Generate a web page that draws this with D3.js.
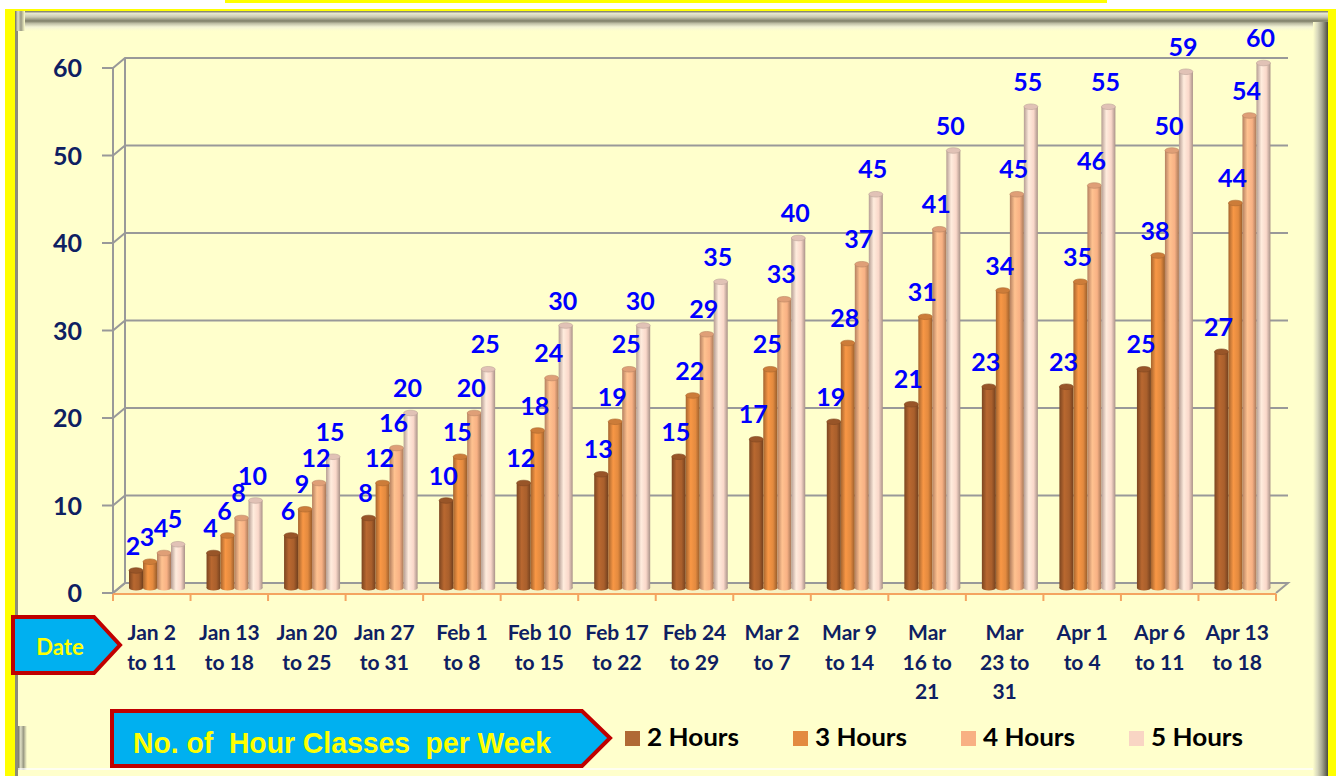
<!DOCTYPE html>
<html>
<head>
<meta charset="utf-8">
<script src="https://cdn.jsdelivr.net/npm/d3@7"></script>
<style>
  body { margin: 0; background: #fff; }
  svg { display: block; }
</style>
</head>
<body>
<div id="chart"></div>
<script>
// data
var categories = ["Jan 2\nto 11", "Jan 13\nto 18", "Jan 20\nto 25", "Jan 27\nto 31", "Feb 1\nto 8",
                  "Feb 10\nto 15", "Feb 17\nto 22", "Feb 24\nto 29", "Mar 2\nto 7", "Mar 9\nto 14",
                  "Mar\n16 to\n21", "Mar\n23 to\n31", "Apr 1\nto 4", "Apr 6\nto 11", "Apr 13\nto 18"];
var seriesNames = ["2 Hours", "3 Hours", "4 Hours", "5 Hours"];
var hours2 = [2, 4, 6, 8, 10, 12, 13, 15, 17, 19, 21, 23, 23, 25, 27];
var hours3 = [3, 6, 9, 12, 15, 18, 19, 22, 25, 28, 31, 34, 35, 38, 44];
var hours4 = [4, 8, 12, 16, 20, 24, 25, 29, 33, 37, 41, 45, 46, 50, 54];
var hours5 = [5, 10, 15, 20, 25, 30, 30, 35, 40, 45, 50, 55, 55, 59, 60];
var yTicks = [0, 10, 20, 30, 40, 50, 60];

var series = [hours2, hours3, hours4, hours5];
var colors = ["#A95F2C", "#E38A3F", "#F8B184", "#FAD8CA"];
var swatch = ["#B06A35", "#E38B40", "#F8B083", "#F9D5C4"];

var W = 1336, H = 776;
var font = "Lato, 'Open Sans', sans-serif";
var svg = d3.select("#chart").append("svg").attr("width", W).attr("height", H);
var defs = svg.append("defs");

// depth offset of the 3d box
var dx = 12, dy = -10;

// ---- frame ----
svg.append("rect").attr("x", 225).attr("y", 0).attr("width", 882).attr("height", 3).attr("fill", "#FFFF00");
svg.append("rect").attr("x", 5).attr("y", 9).attr("width", W - 5).attr("height", H - 9).attr("fill", "#FFFF00");

var gTop = defs.append("linearGradient").attr("id", "bevTop").attr("x1", 0).attr("y1", 0).attr("x2", 0).attr("y2", 1);
[[0, "#6f6f5e"], [0.12, "#e8e8d0"], [0.3, "#c9c9b0"], [0.5, "#7e7e68"], [0.62, "#bdbda4"], [0.8, "#f4f4d6"], [1, "#ffffcc"]]
  .forEach(function(s) { gTop.append("stop").attr("offset", s[0]).attr("stop-color", s[1]); });
var gSide = defs.append("linearGradient").attr("id", "bevSide").attr("x1", 0).attr("y1", 0).attr("x2", 1).attr("y2", 0);
[[0, "#ffffcc"], [0.3, "#d8d8bc"], [0.6, "#a5a590"], [0.85, "#6f6f5e"], [1, "#4a4a40"]]
  .forEach(function(s) { gSide.append("stop").attr("offset", s[0]).attr("stop-color", s[1]); });
var gLeft = defs.append("linearGradient").attr("id", "bevLeft").attr("x1", 0).attr("y1", 0).attr("x2", 1).attr("y2", 0);
[[0, "#6f6f5e"], [0.3, "#e0e0c6"], [0.6, "#9a9a84"], [1, "#ffffcc"]]
  .forEach(function(s) { gLeft.append("stop").attr("offset", s[0]).attr("stop-color", s[1]); });

svg.append("rect").attr("x", 15).attr("y", 11).attr("width", 1313).attr("height", H - 11).attr("fill", "#ffffcc");
svg.append("rect").attr("x", 15).attr("y", 11).attr("width", 1313).attr("height", 20).attr("fill", "url(#bevTop)");
svg.append("rect").attr("x", 15).attr("y", 11).attr("width", 10).attr("height", 20).attr("fill", "url(#bevLeft)");
svg.append("rect").attr("x", 15).attr("y", 31).attr("width", 3).attr("height", H - 31).attr("fill", "#8c8c78");
svg.append("rect").attr("x", 18).attr("y", 726).attr("width", 9).attr("height", 44).attr("fill", "url(#bevLeft)");
svg.append("rect").attr("x", 1313).attr("y", 22).attr("width", 15).attr("height", H - 22).attr("fill", "url(#bevSide)");
svg.append("rect").attr("x", 18).attr("y", 768).attr("width", 1295).attr("height", 2).attr("fill", "#ffffff").attr("opacity", 0.7);

// ---- scales ----
var y = d3.scaleLinear().domain([0, 60]).range([593, 68]);
var x = d3.scaleBand().domain(d3.range(categories.length)).range([113, 1276]);
var xs = d3.scaleBand().domain(d3.range(series.length)).range([10, 66]);

// floor
svg.append("path")
  .attr("d", "M113," + y(0) + "L" + (113 + dx) + "," + (y(0) + dy) + "L" + (1276 + dx) + "," + (y(0) + dy) + "L1276," + y(0))
  .attr("fill", "#f7f3c4").attr("stroke", "#9a9a9a").attr("stroke-width", 2);

// gridlines with side-wall diagonals
svg.append("g").selectAll("path").data(yTicks).enter().append("path")
  .attr("d", function(t) {
    return "M102," + y(t) + "L113," + y(t) + "L" + (113 + dx) + "," + (y(t) + dy) + "L" + (1276 + dx) + "," + (y(t) + dy);
  })
  .attr("fill", "none").attr("stroke", "#999999").attr("stroke-width", 2);

svg.append("line").attr("x1", 113).attr("x2", 113).attr("y1", y(60)).attr("y2", y(0))
  .attr("stroke", "#999999").attr("stroke-width", 2);
svg.append("line").attr("x1", 113 + dx).attr("x2", 113 + dx).attr("y1", y(60) + dy).attr("y2", y(0) + dy)
  .attr("stroke", "#999999").attr("stroke-width", 2);

// front category axis (orange)
svg.append("line").attr("x1", 113).attr("x2", 1276).attr("y1", y(0) + 1).attr("y2", y(0) + 1)
  .attr("stroke", "#F4A460").attr("stroke-width", 2);
svg.append("g").selectAll("line").data(d3.range(categories.length + 1)).enter().append("line")
  .attr("x1", function(i) { return 113 + i * x.bandwidth(); })
  .attr("x2", function(i) { return 113 + i * x.bandwidth(); })
  .attr("y1", y(0) + 1).attr("y2", y(0) + 8)
  .attr("stroke", "#F4A460").attr("stroke-width", 2);

// y tick labels
svg.append("g").selectAll("text").data(yTicks).enter().append("text")
  .attr("x", 82).attr("y", function(t) { return y(t) + 9; })
  .attr("text-anchor", "end")
  .style("font-family", font).style("font-weight", "bold").style("font-size", "25px")
  .attr("fill", "#0E2062")
  .text(function(t) { return t; });

// ---- cylinders ----
colors.forEach(function(c, i) {
  var g = defs.append("linearGradient").attr("id", "cyl" + i).attr("x1", 0).attr("y1", 0).attr("x2", 1).attr("y2", 0);
  g.append("stop").attr("offset", 0).attr("stop-color", d3.color(c).darker(0.9));
  g.append("stop").attr("offset", 0.35).attr("stop-color", d3.color(c).brighter(0.25));
  g.append("stop").attr("offset", 0.7).attr("stop-color", c);
  g.append("stop").attr("offset", 1).attr("stop-color", d3.color(c).darker(1.1));
});

var bw = xs.bandwidth();
var bars = svg.append("g");
series.forEach(function(vals, si) {
  var gs = bars.append("g");
  gs.selectAll("rect").data(vals).enter().append("rect")
    .attr("x", function(v, ci) { return x(ci) + xs(si) + dx / 2; })
    .attr("y", function(v) { return y(v) + dy / 2; })
    .attr("width", bw)
    .attr("height", function(v) { return y(0) - y(v); })
    .attr("fill", "url(#cyl" + si + ")");
  gs.selectAll("ellipse.bot").data(vals).enter().append("ellipse")
    .attr("cx", function(v, ci) { return x(ci) + xs(si) + dx / 2 + bw / 2; })
    .attr("cy", y(0) + dy / 2)
    .attr("rx", bw / 2).attr("ry", 2.5)
    .attr("fill", "url(#cyl" + si + ")");
  gs.selectAll("ellipse.top").data(vals).enter().append("ellipse")
    .attr("cx", function(v, ci) { return x(ci) + xs(si) + dx / 2 + bw / 2; })
    .attr("cy", function(v) { return y(v) + dy / 2; })
    .attr("rx", bw / 2).attr("ry", 2.8)
    .attr("fill", d3.color(colors[si]).darker(0.3))
    .attr("stroke", d3.color(colors[si]).darker(0.8)).attr("stroke-width", 0.6);
});

// value labels
var labels = svg.append("g");
series.forEach(function(vals, si) {
  labels.append("g").selectAll("text").data(vals).enter().append("text")
    .attr("x", function(v, ci) { return x(ci) + xs(si) + dx / 2 + bw / 2 - 3; })
    .attr("y", function(v) { return y(v) + dy / 2 - 16; })
    .attr("text-anchor", "middle")
    .style("font-family", font).style("font-weight", "bold").style("font-size", "25px")
    .attr("fill", "#0000FF")
    .text(function(v) { return v; });
});

// category labels
var cat = svg.append("g").selectAll("text").data(categories).enter().append("text")
  .attr("text-anchor", "middle")
  .style("font-family", font).style("font-weight", "bold").style("font-size", "21px")
  .attr("fill", "#0E2062");
cat.each(function(d, i) {
  var t = d3.select(this);
  d.split("\n").forEach(function(line, li) {
    t.append("tspan").attr("x", x(i) + x.bandwidth() / 2).attr("y", 640 + li * 29.5).text(line);
  });
});

// "Date" arrow
svg.append("path").attr("d", "M13,617L94,617L120,645L94,673L13,673Z")
  .attr("fill", "#00B0F0").attr("stroke", "#C00000").attr("stroke-width", 4).attr("stroke-linejoin", "miter");
svg.append("text").attr("x", 60).attr("y", 655).attr("text-anchor", "middle")
  .style("font-family", font).style("font-weight", "bold").style("font-size", "22px")
  .attr("fill", "#FFFF00").text("Date");

// legend title arrow
svg.append("path").attr("d", "M112,711L582,711L610,738L582,766L112,766Z")
  .attr("fill", "#00B0F0").attr("stroke", "#C00000").attr("stroke-width", 4);
svg.append("text").attr("x", 133).attr("y", 753)
  .attr("textLength", 418).attr("lengthAdjust", "spacingAndGlyphs")
  .style("font-family", "'Liberation Sans Narrow', 'Liberation Sans', Arial, sans-serif").style("font-weight", "bold").style("font-size", "30px")
  .attr("fill", "#FFFF00").attr("xml:space", "preserve")
  .text("No. of  Hour Classes  per Week");

// legend
var leg = svg.append("g").selectAll("g").data(seriesNames).enter().append("g")
  .attr("transform", function(d, i) { return "translate(" + (625 + i * 168) + ",731)"; });
leg.append("rect").attr("width", 15).attr("height", 15).attr("fill", function(d, i) { return swatch[i]; });
leg.append("text").attr("x", 22).attr("y", 15)
  .attr("textLength", 92).attr("lengthAdjust", "spacingAndGlyphs")
  .style("font-family", font).style("font-weight", "bold").style("font-size", "24px")
  .attr("fill", "#000").text(function(d) { return d; });
</script>
</body>
</html>
